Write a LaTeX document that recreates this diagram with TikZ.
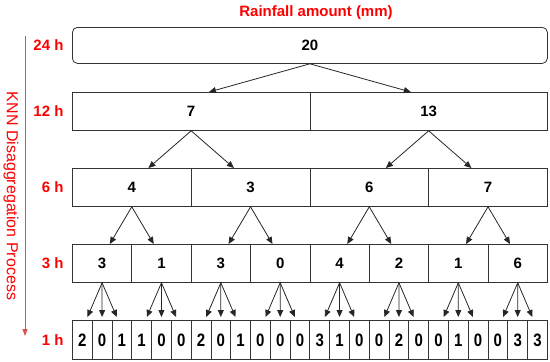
\documentclass[tikz,border=0pt]{standalone}
\usepackage{fontspec}
\setmainfont{Liberation Sans}
\usetikzlibrary{arrows.meta,calc}
\definecolor{procred}{RGB}{222,80,80}
\begin{document}
\begin{tikzpicture}[x=1pt,y=-1pt,
 cell/.style={draw=black!80, line width=0.8pt, inner sep=0pt, font=\fontsize{15}{15}\selectfont\bfseries, anchor=north west},
 lab/.style={text=red, font=\fontsize{15}{15}\selectfont\bfseries, anchor=east},
 arr/.style={draw=black!85, line width=0.8pt, -{Triangle[length=7pt,width=6pt]}}]
\useasboundingbox (0,0) rectangle (550,362);
% title
\node[text=red, font=\fontsize{15}{15}\selectfont\bfseries] (title) at (316,13) {Rainfall amount (mm)};
% level 24 h
\node[cell, rounded corners=5pt, minimum width=475pt, minimum height=36pt] (a1) at (72,27) {20};
% level 12 h
\foreach \v [count=\i] in {7,13}
  \node[cell, minimum width=237.5pt, minimum height=38pt] (b\i) at ({72+(\i-1)*237.5},92) {\v};
% level 6 h
\foreach \v [count=\i] in {4,3,6,7}
  \node[cell, minimum width=118.75pt, minimum height=38pt] (c\i) at ({72+(\i-1)*118.75},168) {\v};
% level 3 h
\foreach \v [count=\i] in {3,1,3,0,4,2,1,6}
  \node[cell, minimum width=59.375pt, minimum height=38pt] (d\i) at ({72+(\i-1)*59.375},244) {\v};
% level 1 h
\foreach \v [count=\i] in {2,0,1,1,0,0,2,0,1,0,0,0,3,1,0,0,2,0,0,1,0,0,3,3}
  \node[cell, minimum width=19.79pt, minimum height=39pt] (e\i) at ({72+(\i-1)*19.79},320) {\scalebox{1}[1.2]{\v}};
% arrows
\foreach \i in {1,2}{
  \coordinate (t) at ($(a1.south)!0.85!(b\i.north)$);
  \draw[arr] (a1.south) -- (t |- b\i.north);
}
\foreach \i in {1,...,4}{
  \pgfmathtruncatemacro\p{(\i+1)/2}
  \coordinate (t) at ($(b\p.south)!0.72!(c\i.north)$);
  \draw[arr] (b\p.south) -- (t |- c\i.north);
}
\foreach \i in {1,...,8}{
  \pgfmathtruncatemacro\p{(\i+1)/2}
  \coordinate (t) at ($(c\p.south)!0.74!(d\i.north)$);
  \draw[arr] (c\p.south) -- (t |- d\i.north);
}
\foreach \i in {1,...,24}{
  \pgfmathtruncatemacro\p{(\i+2)/3}
  \coordinate (t) at ($(d\p.south)!0.74!(e\i.north)$);
  \draw[arr] (d\p.south) -- ([yshift=3pt]t |- e\i.north);
}
% row labels
\node[lab] (l24) at (67,45) {24 h};
\node[lab] (l12) at (67,111) {12 h};
\node[lab] (l6) at (67,187) {6 h};
\node[lab] (l3) at (67,263) {3 h};
\node[lab] (l1) at (67,340) {1 h};
% process arrow
\coordinate (vs) at (25,36);
\coordinate (ve) at (25,336);
\draw[procred, line width=0.9pt, -{Triangle[length=7pt,width=5pt]}] (vs) -- (ve);
\node[rotate=-90, text=red, font=\fontsize{16}{16}\selectfont] (proc) at (11,196) {KNN Disaggregation Process};
\end{tikzpicture}
\end{document}
